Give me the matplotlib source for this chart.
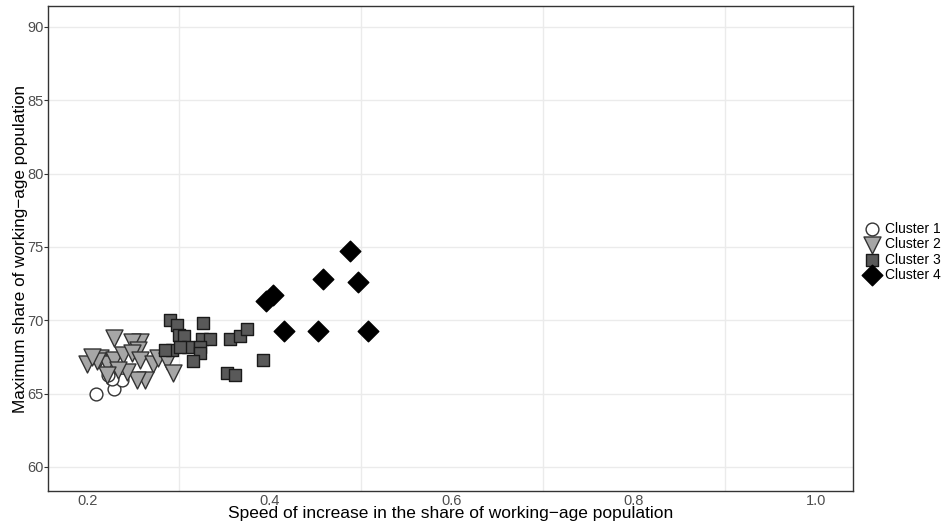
import matplotlib
matplotlib.use("Agg")
import matplotlib.pyplot as plt
from matplotlib.ticker import FixedLocator

plt.rcParams['font.family'] = ['Liberation Sans', 'DejaVu Sans']

# cluster 1
c1_x = [0.209, 0.229, 0.237, 0.226, 0.222]
c1_y = [65.0, 65.3, 65.9, 66.0, 66.3]

# cluster 2
c2_x = [0.228, 0.257, 0.248, 0.255, 0.199, 0.213, 0.221, 0.228, 0.238, 0.248, 0.257,
        0.271, 0.277, 0.287, 0.293, 0.263, 0.254, 0.243, 0.233, 0.221, 0.210, 0.204]
c2_y = [68.8, 68.5, 68.5, 68.0, 67.0, 67.4, 67.0, 67.3, 67.6, 67.8, 67.3,
        67.0, 67.4, 67.2, 66.4, 65.9, 65.9, 66.5, 66.6, 66.3, 67.2, 67.5]

# cluster 3
c3_x = [0.290, 0.298, 0.326, 0.300, 0.305, 0.310, 0.292, 0.285, 0.301, 0.325,
        0.334, 0.323, 0.323, 0.315, 0.356, 0.367, 0.375, 0.392, 0.353, 0.362]
c3_y = [70.0, 69.7, 69.8, 69.0, 68.9, 68.2, 68.0, 68.0, 68.2, 68.7,
        68.7, 68.2, 67.8, 67.2, 68.7, 68.9, 69.4, 67.3, 66.4, 66.3]

# cluster 4
c4_x = [0.488, 0.458, 0.497, 0.396, 0.403, 0.415, 0.453, 0.508]
c4_y = [74.7, 72.8, 72.6, 71.3, 71.7, 69.3, 69.3, 69.3]

fig = plt.figure(figsize=(9.53, 5.27), dpi=100)
ax = fig.add_axes([0.0504, 0.0683, 0.8446, 0.9203])

ax.scatter(c1_x, c1_y, s=85, marker='o', facecolor='white', edgecolor='#333333',
           linewidths=1.0, label='Cluster 1', zorder=3)
ax.scatter(c2_x, c2_y, s=150, marker='v', facecolor='#a6a6a6', edgecolor='#333333',
           linewidths=1.0, label='Cluster 2', zorder=3)
ax.scatter(c3_x, c3_y, s=85, marker='s', facecolor='#595959', edgecolor='#1a1a1a',
           linewidths=1.0, label='Cluster 3', zorder=3)
ax.scatter(c4_x, c4_y, s=110, marker='D', facecolor='black', edgecolor='black',
           linewidths=1.0, label='Cluster 4', zorder=3)

ax.set_xlim(0.156, 1.041)
ax.set_ylim(58.36, 91.43)

ax.set_xticks([0.2, 0.4, 0.6, 0.8, 1.0])
ax.set_xticklabels(['0.2', '0.4', '0.6', '0.8', '1.0'])
ax.xaxis.set_minor_locator(FixedLocator([0.3, 0.5, 0.7, 0.9]))
ax.set_yticks([60, 65, 70, 75, 80, 85, 90])

ax.grid(False)
ax.grid(True, which='minor', axis='x', color='#ebebeb', linewidth=1.0, zorder=0)
ax.grid(True, which='major', axis='y', color='#ebebeb', linewidth=1.0, zorder=0)
ax.set_axisbelow(True)

ax.tick_params(axis='x', which='both', length=0, labelsize=10.5, labelcolor='#4d4d4d', pad=2)
ax.tick_params(axis='y', which='major', length=3, color='#333333', labelsize=10.5,
               labelcolor='#4d4d4d', pad=0)

for s in ax.spines.values():
    s.set_color('#333333')
    s.set_linewidth(1.0)

ax.set_xlabel('Speed of increase in the share of working\u2212age population', fontsize=12.5, labelpad=-1)
ax.set_ylabel('Maximum share of working\u2212age population', fontsize=12.3, va='center')
ax.yaxis.set_label_coords(-0.034, 0.5)

leg = ax.legend(loc='center left', bbox_to_anchor=(1.0, 0.493), frameon=False,
                fontsize=10, handletextpad=0.4, labelspacing=0.1, borderaxespad=0.5,
                markerscale=1.0, handlelength=1.0)

fig.savefig('out.png', dpi=100)
